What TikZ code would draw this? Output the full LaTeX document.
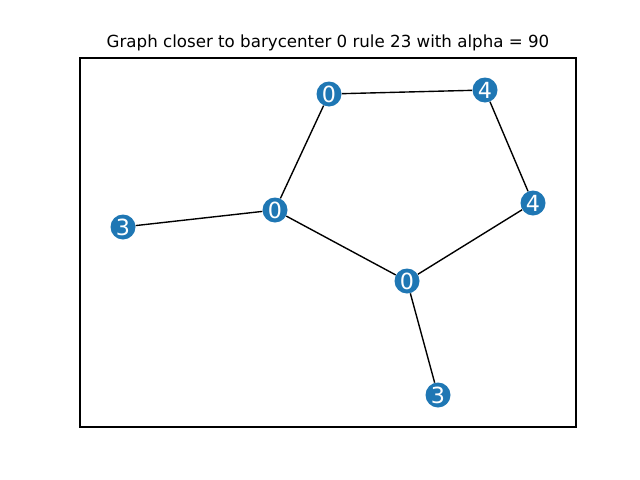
\documentclass[tikz,border=0pt]{standalone}
\usepackage{fontspec}
\setmainfont{DejaVu Sans}
\usetikzlibrary{calc}
\definecolor{nodeblue}{HTML}{1F77B4}

\begin{document}
\begin{tikzpicture}[x=0.72pt,y=-0.72pt,
  vert/.style={shape=circle,fill=nodeblue,inner sep=0pt,minimum size=18pt,text=white,font=\fontsize{16}{18}\selectfont}]
  \useasboundingbox (0,0) rectangle (640,480);
  \draw[line width=0.8pt] (80,58) rectangle (576,427);
  \node[font=\fontsize{12}{14}\selectfont] (title) at (328,43) {Graph closer to barycenter 0 rule 23 with alpha = 90};
  \path (329,94) node[vert] (p0) {0} (485,90) node[vert] (p1) {4} (533,203) node[vert] (p2) {4}
  (407,281) node[vert] (p3) {0} (438,395) node[vert] (p4) {3} (275,210) node[vert] (p5) {0}
  (123,227) node[vert] (p6) {3};
  \draw[line width=1pt] (p0) -- (p1) -- (p2) -- (p3) -- (p4);
  \draw[line width=1pt] (p3) -- (p5) -- (p0);
  \draw[line width=1pt] (p5) -- (p6);
\end{tikzpicture}
\end{document}
